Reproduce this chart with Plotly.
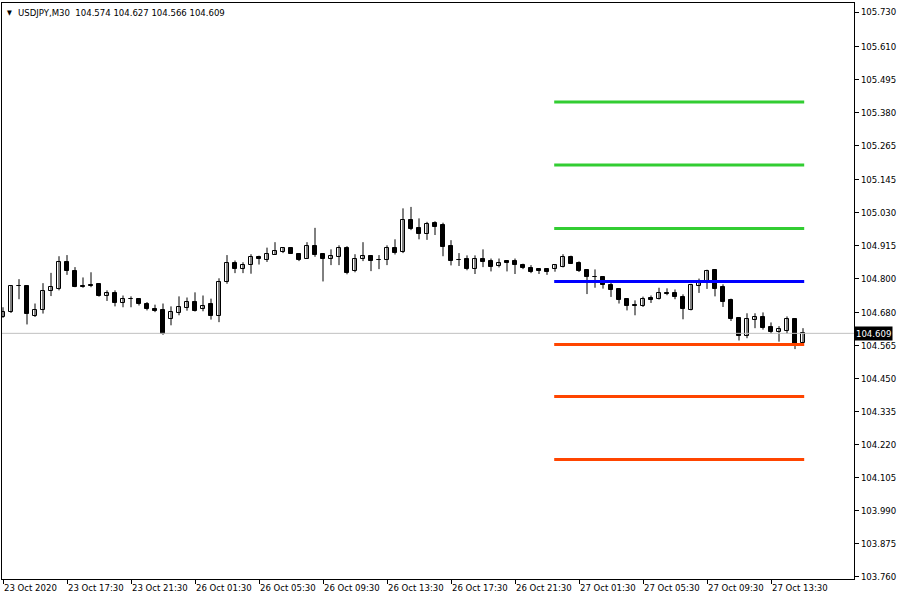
import plotly.graph_objects as go

# ---- data (USDJPY M30) ----
opens = [104.666, 104.683, 104.773, 104.773, 104.669, 104.692, 104.755, 104.762, 104.857, 104.825,
         104.774, 104.779, 104.780, 104.739, 104.751, 104.716, 104.729, 104.728, 104.713, 104.693,
         104.689, 104.658, 104.681, 104.697, 104.720, 104.693, 104.710, 104.669, 104.789, 104.856,
         104.835, 104.849, 104.877, 104.866, 104.884, 104.893, 104.905, 104.885, 104.870, 104.913,
         104.885, 104.867, 104.877, 104.906, 104.825, 104.868, 104.878, 104.864, 104.865, 104.905,
         104.892, 105.006, 104.975, 104.956, 104.995, 104.986, 104.913, 104.865, 104.867, 104.833,
         104.870, 104.860, 104.844, 104.860, 104.860, 104.849, 104.838, 104.833, 104.832, 104.835,
         104.840, 104.877, 104.856, 104.829, 104.806, 104.804, 104.776, 104.762, 104.728, 104.706,
         104.704, 104.732, 104.729, 104.751, 104.749, 104.735, 104.690, 104.774, 104.788, 104.829,
         104.770, 104.725, 104.661, 104.599, 104.657, 104.665, 104.632, 104.613, 104.617, 104.658,
         104.574]
highs = [104.700, 104.775, 104.798, 104.775, 104.713, 104.784, 104.820, 104.878, 104.882, 104.840,
         104.804, 104.822, 104.782, 104.759, 104.759, 104.741, 104.738, 104.731, 104.718, 104.709,
         104.713, 104.703, 104.738, 104.734, 104.752, 104.741, 104.730, 104.801, 104.882, 104.863,
         104.857, 104.885, 104.880, 104.908, 104.927, 104.908, 104.909, 104.886, 104.927, 104.977,
         104.886, 104.902, 104.916, 104.913, 104.885, 104.927, 104.880, 104.882, 104.916, 104.937,
         105.045, 105.050, 105.010, 104.998, 105.000, 104.995, 104.934, 104.889, 104.881, 104.881,
         104.902, 104.870, 104.870, 104.861, 104.870, 104.852, 104.847, 104.836, 104.836, 104.850,
         104.885, 104.880, 104.860, 104.830, 104.832, 104.806, 104.790, 104.766, 104.732, 104.724,
         104.737, 104.741, 104.768, 104.766, 104.762, 104.745, 104.782, 104.800, 104.831, 104.830,
         104.780, 104.730, 104.662, 104.679, 104.679, 104.682, 104.647, 104.634, 104.668, 104.659,
         104.627]
lows = [104.663, 104.680, 104.728, 104.640, 104.666, 104.678, 104.739, 104.759, 104.813, 104.770,
        104.768, 104.770, 104.737, 104.722, 104.703, 104.700, 104.700, 104.706, 104.689, 104.683,
        104.604, 104.637, 104.672, 104.688, 104.685, 104.686, 104.657, 104.648, 104.782, 104.819,
        104.819, 104.817, 104.849, 104.858, 104.883, 104.889, 104.886, 104.861, 104.869, 104.876,
        104.790, 104.847, 104.847, 104.815, 104.822, 104.861, 104.826, 104.833, 104.847, 104.884,
        104.889, 104.969, 104.937, 104.935, 104.952, 104.878, 104.846, 104.844, 104.829, 104.816,
        104.840, 104.825, 104.839, 104.825, 104.816, 104.833, 104.819, 104.816, 104.813, 104.824,
        104.839, 104.851, 104.823, 104.746, 104.768, 104.765, 104.736, 104.713, 104.689, 104.672,
        104.701, 104.715, 104.727, 104.742, 104.728, 104.658, 104.689, 104.750, 104.764, 104.738,
        104.701, 104.652, 104.584, 104.592, 104.627, 104.622, 104.608, 104.580, 104.608, 104.554,
        104.566]
closes = [104.683, 104.773, 104.775, 104.678, 104.692, 104.756, 104.769, 104.857, 104.825, 104.771,
          104.772, 104.774, 104.739, 104.751, 104.715, 104.730, 104.728, 104.711, 104.693, 104.686,
          104.607, 104.682, 104.700, 104.720, 104.686, 104.705, 104.669, 104.789, 104.856, 104.833,
          104.849, 104.877, 104.868, 104.885, 104.895, 104.905, 104.887, 104.864, 104.913, 104.882,
          104.868, 104.878, 104.906, 104.821, 104.870, 104.880, 104.861, 104.865, 104.905, 104.891,
          105.006, 104.973, 104.956, 104.992, 104.980, 104.910, 104.860, 104.864, 104.832, 104.870,
          104.857, 104.840, 104.853, 104.856, 104.847, 104.837, 104.822, 104.825, 104.823, 104.846,
          104.877, 104.852, 104.828, 104.805, 104.805, 104.779, 104.759, 104.725, 104.704, 104.705,
          104.728, 104.725, 104.751, 104.745, 104.735, 104.693, 104.776, 104.788, 104.826, 104.764,
          104.718, 104.659, 104.599, 104.658, 104.665, 104.627, 104.612, 104.623, 104.658, 104.573,
          104.609]

tick_bars = [0, 8, 16, 24, 32, 40, 48, 56, 64, 72, 80, 88, 96]
tick_labels = ["23 Oct 2020", "23 Oct 17:30", "23 Oct 21:30", "26 Oct 01:30", "26 Oct 05:30",
               "26 Oct 09:30", "26 Oct 13:30", "26 Oct 17:30", "26 Oct 21:30", "27 Oct 01:30",
               "27 Oct 05:30", "27 Oct 09:30", "27 Oct 13:30"]

price_ticks = [105.730, 105.610, 105.495, 105.380, 105.265, 105.145, 105.030, 104.915, 104.800,
               104.680, 104.565, 104.450, 104.335, 104.220, 104.105, 103.990, 103.875, 103.760]

levels = [105.416, 105.196, 104.975, 104.790, 104.570, 104.389, 104.169]
level_colors = ["#32CD32", "#32CD32", "#32CD32", "#0000FF", "#FF4500", "#FF4500", "#FF4500"]
level_start_bar = 68.9
level_end_bar = 100.15

symbol = "USDJPY,M30"
last_price = 104.609

FONT = "DejaVu Sans Condensed, Liberation Sans, Arial, sans-serif"
FS = 9.5

n = len(opens)
idx = list(range(n))

fig = go.Figure()

# wicks
wx, wy = [], []
for i in idx:
    wx += [i, i, None]
    wy += [lows[i], highs[i], None]
fig.add_trace(go.Scatter(x=wx, y=wy, mode="lines", line=dict(color="black", width=1),
                         hoverinfo="skip", showlegend=False))

# bodies
bases, heights, fills = [], [], []
for o, c in zip(opens, closes):
    lo, hi = min(o, c), max(o, c)
    h = hi - lo
    if h < 0.0025:
        mid = (hi + lo) / 2
        lo = mid - 0.00125
        h = 0.0025
    bases.append(lo)
    heights.append(h)
    fills.append("white" if c >= o else "black")
fig.add_trace(go.Bar(x=idx, y=heights, base=bases, width=0.58,
                     marker=dict(color=fills, line=dict(color="black", width=1)),
                     showlegend=False, hoverinfo="skip"))

# current price line
fig.add_trace(go.Scatter(x=[-0.125, 106.375], y=[last_price, last_price], mode="lines",
                         line=dict(color="#C0C0C0", width=1), hoverinfo="skip", showlegend=False))

# level lines
for lv, col in zip(levels, level_colors):
    fig.add_trace(go.Scatter(x=[level_start_bar, level_end_bar], y=[lv, lv], mode="lines",
                             line=dict(color=col, width=3), hoverinfo="skip", showlegend=False))

fig.update_layout(
    width=900, height=600,
    margin=dict(l=2, r=46, t=3, b=21, autoexpand=False),
    paper_bgcolor="white", plot_bgcolor="white",
    bargap=0,
    font=dict(family=FONT, size=FS, color="black"),
    showlegend=False,
    hovermode=False,
    xaxis=dict(range=[-0.125, 106.375], showgrid=False, zeroline=False, automargin=False,
               showline=True, linecolor="black", linewidth=1, mirror=True,
               tickmode="array", tickvals=tick_bars, ticktext=tick_labels, tickangle=0,
               ticks="outside", ticklen=4, tickcolor="black", tickwidth=1,
               ticklabelposition="outside right",
               tickfont=dict(family=FONT, size=FS, color="black")),
    yaxis=dict(range=[103.752, 105.7614], side="right", showgrid=False, zeroline=False,
               automargin=False,
               showline=True, linecolor="black", linewidth=1, mirror=True,
               tickmode="array", tickvals=price_ticks,
               ticktext=[f"{v:.3f}" for v in price_ticks],
               ticks="outside", ticklen=4, tickcolor="black", tickwidth=1,
               tickfont=dict(family=FONT, size=FS, color="black")),
)

fig.add_annotation(xref="paper", yref="paper", x=0, y=1, xshift=3, yshift=-4,
                   xanchor="left", yanchor="top", showarrow=False,
                   text="\u25BC", font=dict(family=FONT, size=7, color="black"))
fig.add_annotation(xref="paper", yref="paper", x=0, y=1, xshift=14, yshift=-2,
                   xanchor="left", yanchor="top", showarrow=False,
                   text=f"{symbol}\u00a0\u00a0{opens[-1]:.3f} {highs[-1]:.3f} {lows[-1]:.3f} {closes[-1]:.3f}",
                   font=dict(family=FONT, size=FS, color="black"))
fig.add_annotation(xref="paper", yref="y", x=1, y=last_price, xanchor="left", yanchor="middle",
                   xshift=0, showarrow=False, text=f"{last_price:.3f}", bgcolor="black",
                   borderpad=1, font=dict(family=FONT, size=FS, color="white"))

fig.write_html("out.html", config={"displayModeBar": False},
               post_script="document.body.style.margin='0';")
